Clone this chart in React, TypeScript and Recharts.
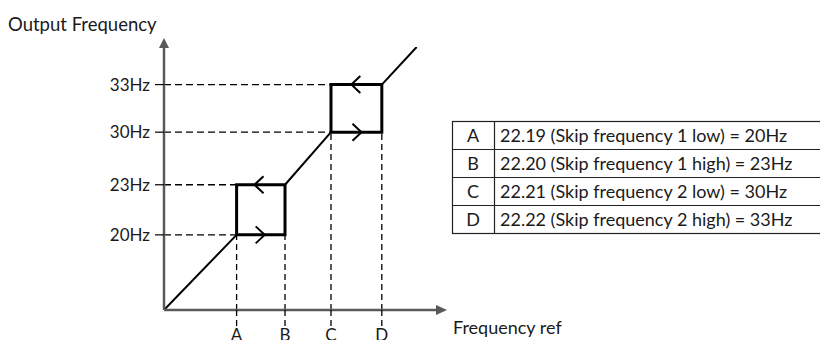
import React from 'react';
import { ComposedChart, Line, XAxis, YAxis, ReferenceLine, ReferenceDot } from 'recharts';

// Schematic positions (the original drawing is not to scale)
const refLabels = ['A', 'B', 'C', 'D'];
const refPoints = [1.5, 2.5, 3.45, 4.5]; // Frequency ref positions of A..D
const freqLabels = ['20Hz', '23Hz', '30Hz', '33Hz'];
const freqLevels = [1.5, 2.5, 3.55, 4.5]; // Output frequency levels
const xMax = 5.64;
const yMax = 5.25;
const tailEnd = { x: 5.22, y: 5.25 };

// Arrow markers inside the skip bands
const arrowX = [2.08, 1.87, 4.08, 3.87];
const arrowY = [1.5, 2.5, 3.55, 4.5];
const arrowDir = ['right', 'left', 'right', 'left'];

// Table
const tableCodes = ['A', 'B', 'C', 'D'];
const tableTexts = [
  '22.19 (Skip frequency 1 low) = 20Hz',
  '22.20 (Skip frequency 1 high) = 23Hz',
  '22.21 (Skip frequency 2 low) = 30Hz',
  '22.22 (Skip frequency 2 high) = 33Hz',
];

const FONT = 'Lato, "Open Sans", sans-serif';
const TEXT = '#1a1a1a';
const AXIS = '#595959';

const seg1 = [
  { x: 0, y: 0 },
  { x: refPoints[0], y: freqLevels[0] },
];
const seg2 = [
  { x: refPoints[1], y: freqLevels[1] },
  { x: refPoints[2], y: freqLevels[2] },
];
const seg3 = [
  { x: refPoints[3], y: freqLevels[3] },
  { x: tailEnd.x, y: tailEnd.y },
];
const box = (x0: number, x1: number, y0: number, y1: number) => [
  { x: x0, y: y0 },
  { x: x1, y: y0 },
  { x: x1, y: y1 },
  { x: x0, y: y1 },
  { x: x0, y: y0 },
];
const box1 = box(refPoints[0], refPoints[1], freqLevels[0], freqLevels[1]);
const box2 = box(refPoints[2], refPoints[3], freqLevels[2], freqLevels[3]);

const XTick = (props: any) => {
  const { x, y, payload } = props;
  const label = refLabels[refPoints.indexOf(payload.value)];
  return (
    <g>
      <line x1={x} x2={x} y1={y} y2={y + 16} stroke="#000" strokeWidth={1.3} strokeDasharray="6 4" />
      <text x={x} y={y + 31} textAnchor="middle" fontFamily={FONT} fontSize={17} fill={TEXT}>
        {label}
      </text>
    </g>
  );
};

const Chevron = (dir: string) => (props: any) => {
  const { cx, cy } = props;
  const w = 9;
  const h = 8.5;
  const d =
    dir === 'right'
      ? `M${cx - w},${cy - h} L${cx},${cy} L${cx - w},${cy + h}`
      : `M${cx + w},${cy - h} L${cx},${cy} L${cx + w},${cy + h}`;
  return <path d={d} fill="none" stroke="#000" strokeWidth={2} />;
};

const XArrowHead = (props: any) => {
  const { cx, cy } = props;
  return <polygon points={`${cx - 1},${cy - 5} ${cx + 10},${cy} ${cx - 1},${cy + 5}`} fill={AXIS} />;
};
const YArrowHead = (props: any) => {
  const { cx, cy } = props;
  return <polygon points={`${cx - 5},${cy + 1} ${cx},${cy - 9} ${cx + 5},${cy + 1}`} fill={AXIS} />;
};

export default function App() {
  const lineProps = {
    type: 'linear' as const,
    dataKey: 'y',
    stroke: '#000',
    dot: false,
    activeDot: false,
    isAnimationActive: false,
    legendType: 'none' as const,
  };
  return (
    <div style={{ position: 'absolute', left: 0, top: 0, width: 820, height: 340, background: '#fff' }}>
      <ComposedChart width={820} height={340} margin={{ top: 47, right: 383, bottom: 0, left: 104 }}>
        <XAxis
          type="number"
          dataKey="x"
          domain={[0, xMax]}
          ticks={refPoints}
          tick={<XTick />}
          tickLine={false}
          tickSize={0}
          tickMargin={0}
          height={30}
          axisLine={{ stroke: AXIS, strokeWidth: 2.5 }}
          allowDataOverflow
          interval={0}
        />
        <YAxis
          type="number"
          dataKey="y"
          domain={[0, yMax]}
          ticks={freqLevels}
          tickFormatter={(v: number) => freqLabels[freqLevels.indexOf(v)]}
          tick={{ fontFamily: FONT, fontSize: 17, fill: TEXT }}
          tickLine={{ stroke: '#000', strokeWidth: 1.2 }}
          tickSize={9}
          tickMargin={5}
          width={60}
          axisLine={{ stroke: AXIS, strokeWidth: 2.5 }}
          allowDataOverflow
          interval={0}
        />
        {freqLevels.map((lv, i) => (
          <ReferenceLine
            key={'h' + i}
            segment={[
              { x: 0, y: lv },
              { x: i < 2 ? refPoints[0] : refPoints[2], y: lv },
            ]}
            stroke="#000"
            strokeWidth={1.3}
            strokeDasharray="7 4"
          />
        ))}
        {refPoints.map((rp, i) => (
          <ReferenceLine
            key={'v' + i}
            segment={[
              { x: rp, y: 0 },
              { x: rp, y: i < 2 ? freqLevels[0] : freqLevels[2] },
            ]}
            stroke="#000"
            strokeWidth={1.3}
            strokeDasharray="6 4"
          />
        ))}
        <Line {...lineProps} data={seg1} strokeWidth={2} />
        <Line {...lineProps} data={seg2} strokeWidth={2} />
        <Line {...lineProps} data={seg3} strokeWidth={2} />
        <Line {...lineProps} data={box1} strokeWidth={3} strokeLinejoin="miter" />
        <Line {...lineProps} data={box2} strokeWidth={3} strokeLinejoin="miter" />
        {arrowX.map((ax, i) => (
          <ReferenceDot key={'a' + i} x={ax} y={arrowY[i]} r={0} shape={Chevron(arrowDir[i])} />
        ))}
        <ReferenceDot x={xMax} y={0} r={0} shape={XArrowHead} ifOverflow="visible" />
        <ReferenceDot x={0} y={yMax} r={0} shape={YArrowHead} ifOverflow="visible" />
      </ComposedChart>
      <svg
        width={820}
        height={340}
        style={{ position: 'absolute', left: 0, top: 0, pointerEvents: 'none' }}
      >
        <text x={8} y={31} fontFamily={FONT} fontSize={18.5} fill={TEXT}>
          Output Frequency
        </text>
        <text x={453} y={334} fontFamily={FONT} fontSize={18} fill={TEXT}>
          Frequency ref
        </text>
        <g>
          <rect x={452.5} y={121.5} width={370} height={112} fill="none" stroke="#222" strokeWidth={1.2} />
          <line x1={494.5} x2={494.5} y1={121.5} y2={233.5} stroke="#222" strokeWidth={1.2} />
          {tableCodes.map((c, i) => (
            <g key={c}>
              {i > 0 && (
                <line x1={452.5} x2={822} y1={121.5 + i * 28} y2={121.5 + i * 28} stroke="#222" strokeWidth={1.2} />
              )}
              <text x={473} y={141.5 + i * 28} textAnchor="middle" fontFamily={FONT} fontSize={18} fill={TEXT}>
                {c}
              </text>
              <text x={500} y={141.5 + i * 28} fontFamily={FONT} fontSize={18} fill={TEXT}>
                {tableTexts[i]}
              </text>
            </g>
          ))}
        </g>
      </svg>
    </div>
  );
}
